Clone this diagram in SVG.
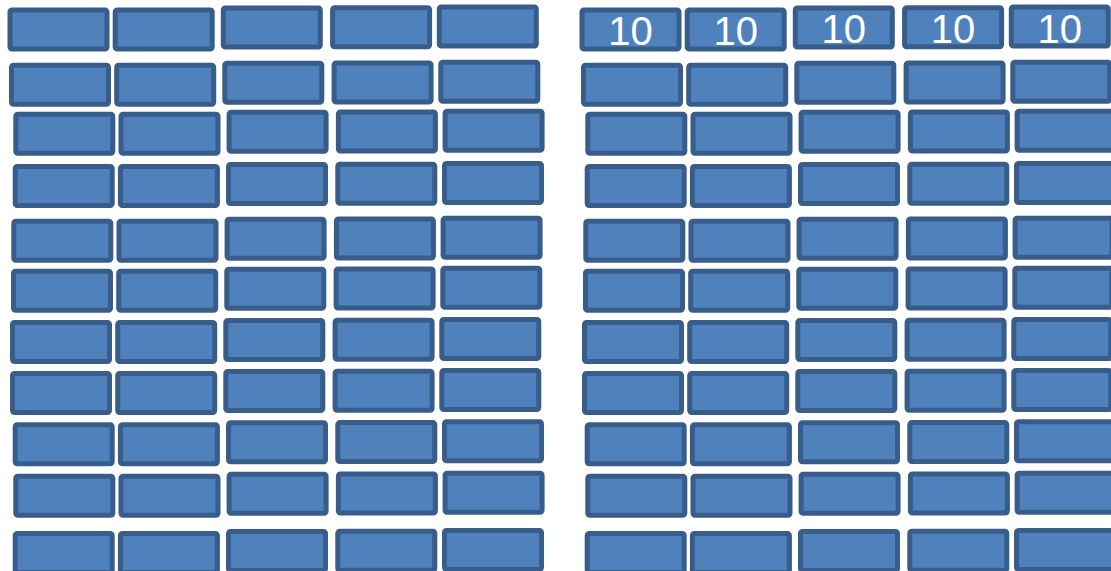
<svg xmlns="http://www.w3.org/2000/svg" width="1111" height="571" viewBox="0 0 1111 571">
<style>
.b{fill:#4F81BD;stroke:#385D8A;stroke-width:5}
.t{font-family:"Liberation Sans",Arial,sans-serif;font-size:40px;fill:#FFFFFF;text-anchor:middle}
</style>
<defs>
<rect id="box" width="97" height="39" rx="2" ry="2"/>
</defs>
<rect width="1111" height="571" fill="#FFFFFF"/>
<g id="left-block">
<g id="L-r1c1"><use href="#box" class="b" x="10" y="10"/></g>
<g id="L-r1c2"><use href="#box" class="b" x="115.2" y="10"/></g>
<g id="L-r1c3"><use href="#box" class="b" x="223.3" y="8"/></g>
<g id="L-r1c4"><use href="#box" class="b" x="332.6" y="7.8"/></g>
<g id="L-r1c5"><use href="#box" class="b" x="439.3" y="7"/></g>
<g id="L-r2c1"><use href="#box" class="b" x="11.5" y="65.2"/></g>
<g id="L-r2c2"><use href="#box" class="b" x="116.7" y="65.2"/></g>
<g id="L-r2c3"><use href="#box" class="b" x="224.8" y="63.2"/></g>
<g id="L-r2c4"><use href="#box" class="b" x="334.1" y="63"/></g>
<g id="L-r2c5"><use href="#box" class="b" x="440.8" y="62.2"/></g>
<g id="L-r3c1"><use href="#box" class="b" x="15.8" y="114.2"/></g>
<g id="L-r3c2"><use href="#box" class="b" x="121" y="114.2"/></g>
<g id="L-r3c3"><use href="#box" class="b" x="229.1" y="112.2"/></g>
<g id="L-r3c4"><use href="#box" class="b" x="338.4" y="112"/></g>
<g id="L-r3c5"><use href="#box" class="b" x="445.1" y="111.2"/></g>
<g id="L-r4c1"><use href="#box" class="b" x="15.2" y="166.5"/></g>
<g id="L-r4c2"><use href="#box" class="b" x="120.4" y="166.5"/></g>
<g id="L-r4c3"><use href="#box" class="b" x="228.5" y="164.5"/></g>
<g id="L-r4c4"><use href="#box" class="b" x="337.8" y="164.3"/></g>
<g id="L-r4c5"><use href="#box" class="b" x="444.5" y="163.5"/></g>
<g id="L-r5c1"><use href="#box" class="b" x="13.8" y="221.2"/></g>
<g id="L-r5c2"><use href="#box" class="b" x="119" y="221.2"/></g>
<g id="L-r5c3"><use href="#box" class="b" x="227.1" y="219.2"/></g>
<g id="L-r5c4"><use href="#box" class="b" x="336.4" y="219"/></g>
<g id="L-r5c5"><use href="#box" class="b" x="443.1" y="218.2"/></g>
<g id="L-r6c1"><use href="#box" class="b" x="13.5" y="271.2"/></g>
<g id="L-r6c2"><use href="#box" class="b" x="118.7" y="271.2"/></g>
<g id="L-r6c3"><use href="#box" class="b" x="226.8" y="269.2"/></g>
<g id="L-r6c4"><use href="#box" class="b" x="336.1" y="269"/></g>
<g id="L-r6c5"><use href="#box" class="b" x="442.8" y="268.2"/></g>
<g id="L-r7c1"><use href="#box" class="b" x="12.5" y="322.5"/></g>
<g id="L-r7c2"><use href="#box" class="b" x="117.7" y="322.5"/></g>
<g id="L-r7c3"><use href="#box" class="b" x="225.8" y="320.5"/></g>
<g id="L-r7c4"><use href="#box" class="b" x="335.1" y="320.3"/></g>
<g id="L-r7c5"><use href="#box" class="b" x="441.8" y="319.5"/></g>
<g id="L-r8c1"><use href="#box" class="b" x="12.5" y="373.5"/></g>
<g id="L-r8c2"><use href="#box" class="b" x="117.7" y="373.5"/></g>
<g id="L-r8c3"><use href="#box" class="b" x="225.8" y="371.5"/></g>
<g id="L-r8c4"><use href="#box" class="b" x="335.1" y="371.3"/></g>
<g id="L-r8c5"><use href="#box" class="b" x="441.8" y="370.5"/></g>
<g id="L-r9c1"><use href="#box" class="b" x="15.2" y="424.8"/></g>
<g id="L-r9c2"><use href="#box" class="b" x="120.4" y="424.8"/></g>
<g id="L-r9c3"><use href="#box" class="b" x="228.5" y="422.8"/></g>
<g id="L-r9c4"><use href="#box" class="b" x="337.8" y="422.6"/></g>
<g id="L-r9c5"><use href="#box" class="b" x="444.5" y="421.8"/></g>
<g id="L-r10c1"><use href="#box" class="b" x="15.8" y="476.2"/></g>
<g id="L-r10c2"><use href="#box" class="b" x="121" y="476.2"/></g>
<g id="L-r10c3"><use href="#box" class="b" x="229.1" y="474.2"/></g>
<g id="L-r10c4"><use href="#box" class="b" x="338.4" y="474"/></g>
<g id="L-r10c5"><use href="#box" class="b" x="445.1" y="473.2"/></g>
<g id="L-r11c1"><use href="#box" class="b" x="15.2" y="533.5"/></g>
<g id="L-r11c2"><use href="#box" class="b" x="120.4" y="533.5"/></g>
<g id="L-r11c3"><use href="#box" class="b" x="228.5" y="531.5"/></g>
<g id="L-r11c4"><use href="#box" class="b" x="337.8" y="531.3"/></g>
<g id="L-r11c5"><use href="#box" class="b" x="444.5" y="530.5"/></g>
</g>
<g id="right-block" transform="translate(572,0)">
<g id="R-r1c1"><use href="#box" class="b" x="10" y="10"/><text class="t" x="58.5" y="45">10</text></g>
<g id="R-r1c2"><use href="#box" class="b" x="115.2" y="10"/><text class="t" x="163.7" y="45">10</text></g>
<g id="R-r1c3"><use href="#box" class="b" x="223.3" y="8"/><text class="t" x="271.8" y="43">10</text></g>
<g id="R-r1c4"><use href="#box" class="b" x="332.6" y="7.8"/><text class="t" x="381.1" y="43">10</text></g>
<g id="R-r1c5"><use href="#box" class="b" x="439.3" y="7"/><text class="t" x="487.8" y="42.5">10</text></g>
<g id="R-r2c1"><use href="#box" class="b" x="11.5" y="65.2"/></g>
<g id="R-r2c2"><use href="#box" class="b" x="116.7" y="65.2"/></g>
<g id="R-r2c3"><use href="#box" class="b" x="224.8" y="63.2"/></g>
<g id="R-r2c4"><use href="#box" class="b" x="334.1" y="63"/></g>
<g id="R-r2c5"><use href="#box" class="b" x="440.8" y="62.2"/></g>
<g id="R-r3c1"><use href="#box" class="b" x="15.8" y="114.2"/></g>
<g id="R-r3c2"><use href="#box" class="b" x="121" y="114.2"/></g>
<g id="R-r3c3"><use href="#box" class="b" x="229.1" y="112.2"/></g>
<g id="R-r3c4"><use href="#box" class="b" x="338.4" y="112"/></g>
<g id="R-r3c5"><use href="#box" class="b" x="445.1" y="111.2"/></g>
<g id="R-r4c1"><use href="#box" class="b" x="15.2" y="166.5"/></g>
<g id="R-r4c2"><use href="#box" class="b" x="120.4" y="166.5"/></g>
<g id="R-r4c3"><use href="#box" class="b" x="228.5" y="164.5"/></g>
<g id="R-r4c4"><use href="#box" class="b" x="337.8" y="164.3"/></g>
<g id="R-r4c5"><use href="#box" class="b" x="444.5" y="163.5"/></g>
<g id="R-r5c1"><use href="#box" class="b" x="13.8" y="221.2"/></g>
<g id="R-r5c2"><use href="#box" class="b" x="119" y="221.2"/></g>
<g id="R-r5c3"><use href="#box" class="b" x="227.1" y="219.2"/></g>
<g id="R-r5c4"><use href="#box" class="b" x="336.4" y="219"/></g>
<g id="R-r5c5"><use href="#box" class="b" x="443.1" y="218.2"/></g>
<g id="R-r6c1"><use href="#box" class="b" x="13.5" y="271.2"/></g>
<g id="R-r6c2"><use href="#box" class="b" x="118.7" y="271.2"/></g>
<g id="R-r6c3"><use href="#box" class="b" x="226.8" y="269.2"/></g>
<g id="R-r6c4"><use href="#box" class="b" x="336.1" y="269"/></g>
<g id="R-r6c5"><use href="#box" class="b" x="442.8" y="268.2"/></g>
<g id="R-r7c1"><use href="#box" class="b" x="12.5" y="322.5"/></g>
<g id="R-r7c2"><use href="#box" class="b" x="117.7" y="322.5"/></g>
<g id="R-r7c3"><use href="#box" class="b" x="225.8" y="320.5"/></g>
<g id="R-r7c4"><use href="#box" class="b" x="335.1" y="320.3"/></g>
<g id="R-r7c5"><use href="#box" class="b" x="441.8" y="319.5"/></g>
<g id="R-r8c1"><use href="#box" class="b" x="12.5" y="373.5"/></g>
<g id="R-r8c2"><use href="#box" class="b" x="117.7" y="373.5"/></g>
<g id="R-r8c3"><use href="#box" class="b" x="225.8" y="371.5"/></g>
<g id="R-r8c4"><use href="#box" class="b" x="335.1" y="371.3"/></g>
<g id="R-r8c5"><use href="#box" class="b" x="441.8" y="370.5"/></g>
<g id="R-r9c1"><use href="#box" class="b" x="15.2" y="424.8"/></g>
<g id="R-r9c2"><use href="#box" class="b" x="120.4" y="424.8"/></g>
<g id="R-r9c3"><use href="#box" class="b" x="228.5" y="422.8"/></g>
<g id="R-r9c4"><use href="#box" class="b" x="337.8" y="422.6"/></g>
<g id="R-r9c5"><use href="#box" class="b" x="444.5" y="421.8"/></g>
<g id="R-r10c1"><use href="#box" class="b" x="15.8" y="476.2"/></g>
<g id="R-r10c2"><use href="#box" class="b" x="121" y="476.2"/></g>
<g id="R-r10c3"><use href="#box" class="b" x="229.1" y="474.2"/></g>
<g id="R-r10c4"><use href="#box" class="b" x="338.4" y="474"/></g>
<g id="R-r10c5"><use href="#box" class="b" x="445.1" y="473.2"/></g>
<g id="R-r11c1"><use href="#box" class="b" x="15.2" y="533.5"/></g>
<g id="R-r11c2"><use href="#box" class="b" x="120.4" y="533.5"/></g>
<g id="R-r11c3"><use href="#box" class="b" x="228.5" y="531.5"/></g>
<g id="R-r11c4"><use href="#box" class="b" x="337.8" y="531.3"/></g>
<g id="R-r11c5"><use href="#box" class="b" x="444.5" y="530.5"/></g>
</g>
<g id="connectors"></g>
</svg>
